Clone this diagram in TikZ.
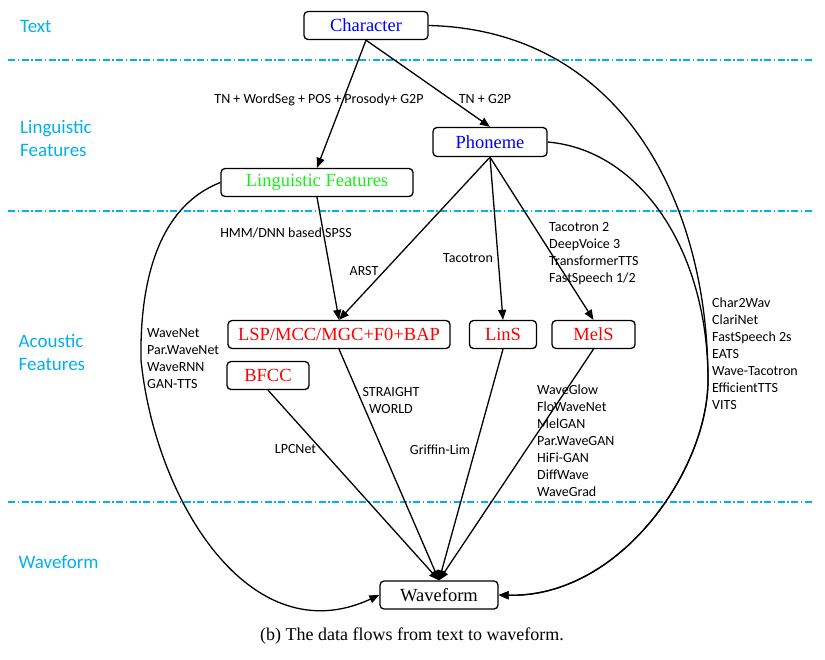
\documentclass[tikz,border=0pt]{standalone}
\usepackage{fontspec}
\setmainfont{Liberation Serif}
\newfontfamily\carl{Carlito}
\usetikzlibrary{arrows.meta}
\definecolor{lblue}{RGB}{0,176,240}
\definecolor{lgreen}{RGB}{20,240,20}
\begin{document}
\begin{tikzpicture}[x=1pt,y=-1pt,
 box/.style={draw, rounded corners=4pt, line width=1.3pt, inner sep=0pt, minimum height=28pt, font=\fontsize{18.5}{20}\selectfont},
 lab/.style={font=\carl\fontsize{14}{17}\selectfont, inner sep=0pt, align=left},
 cat/.style={font=\carl\fontsize{19}{23}\selectfont, text=lblue, inner sep=0pt, align=left, anchor=west},
 sep/.style={lblue, line width=1.2pt, dash pattern=on 7pt off 2.5pt on 1.5pt off 2.5pt},
 arr/.style={line width=1.3pt, -{Triangle[length=10pt,width=8pt]}}]
\useasboundingbox (0,0) rectangle (825,660);

% separators
\coordinate (s1a) at (8,60); \coordinate (s1b) at (812,60);
\coordinate (s2a) at (8,211); \coordinate (s2b) at (812,211);
\coordinate (s3a) at (8,502); \coordinate (s3b) at (812,502);
\draw[sep] (s1a) -- (s1b);
\draw[sep] (s2a) -- (s2b);
\draw[sep] (s3a) -- (s3b);

% category labels
\node[cat] (cText) at (20,26.5) {Text};
\node[cat] (cLing) at (20,139) {Linguistic\\Features};
\node[cat] (cAco) at (18.5,352.5) {Acoustic\\Features};
\node[cat] (cWave) at (18.5,562) {Waveform};

% boxes
\node[box, text=blue, minimum width=124pt] (ch) at (366,25.5) {Character};
\node[box, text=blue, minimum width=114pt, minimum height=29pt] (ph) at (490,142) {Phoneme};
\node[box, text=lgreen, minimum width=192pt] (lf) at (317,182.5) {Linguistic Features};
\node[box, text=red, minimum width=222pt] (lsp) at (339,334.5) {LSP/MCC/MGC+F0+BAP};
\node[box, text=red, minimum width=82pt] (bf) at (268,375.5) {BFCC};
\node[box, text=red, minimum width=67pt] (lin) at (503,334.5) {LinS};
\node[box, text=red, minimum width=83pt] (mel) at (593.5,334.5) {MelS};
\node[box, minimum width=118pt] (wf) at (439,595) {Waveform};

% straight arrows
\draw[arr] (ch.south) -- (lf.north);
\draw[arr] (ch.south) -- (ph.north);
\draw[arr] (lf.south) -- (lsp.north);
\draw[arr] (ph.south) -- (lsp.north);
\draw[arr] (ph.south) -- (lin.north);
\draw[arr] (ph.south) -- (mel.north);
\draw[arr] (lsp.south) -- (wf.north);
\draw[arr] (bf.south) -- (wf.north);
\draw[arr] (lin.south) -- (wf.north);
\draw[arr] (mel.south) -- (wf.north);

% curves
\coordinate (rj) at (708,380);
\coordinate (lj) at (141,360);
\draw[arr] (ch.east) .. controls (620,30) and (708,200) .. (rj) .. controls (708,470) and (620,598) .. (wf.east);
\draw[arr] (ph.east) .. controls (640,150) and (708,250) .. (rj) .. controls (708,470) and (620,598) .. (wf.east);
\draw[arr] (lf.west) .. controls (150,210) and (140,300) .. (lj) .. controls (155,500) and (250,655) .. (wf.west);

% edge labels
\node[lab] (t1) at (319,99.5) {TN + WordSeg + POS + Prosody+ G2P};
\node[lab] (t2) at (485,99.5) {TN + G2P};
\node[lab] (t3) at (286,233) {HMM/DNN based SPSS};
\node[lab] (t4) at (364,271.5) {ARST};
\node[lab] (t5) at (468,258) {Tacotron};
\node[lab, anchor=west] (t6) at (549,253.2) {Tacotron 2\\DeepVoice 3\\TransformerTTS\\FastSpeech 1/2};
\node[lab, anchor=west] (t7) at (147,359) {WaveNet\\Par.WaveNet\\WaveRNN\\GAN-TTS};
\node[lab, align=center] (t8) at (391,401) {STRAIGHT\\WORLD};
\node[lab] (t9) at (295.5,449.5) {LPCNet};
\node[lab] (t10) at (440,449.5) {Griffin-Lim};
\node[lab, anchor=west] (t11) at (537,440.2) {WaveGlow\\FloWaveNet\\MelGAN\\Par.WaveGAN\\HiFi-GAN\\DiffWave\\WaveGrad};
\node[lab, anchor=west] (t12) at (712,353.3) {Char2Wav\\ClariNet\\FastSpeech 2s\\EATS\\Wave-Tacotron\\EfficientTTS\\VITS};

% caption
\node[font=\fontsize{18}{20}\selectfont, inner sep=0pt] (cap) at (412,636) {(b) The data flows from text to waveform.};
\end{tikzpicture}
\end{document}
